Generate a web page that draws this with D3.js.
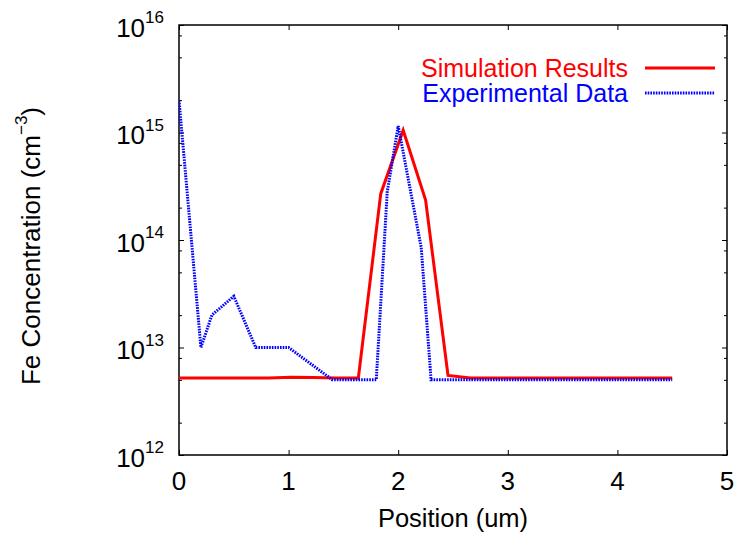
<!DOCTYPE html>
<html>
<head>
<meta charset="utf-8">
<script src="https://cdn.jsdelivr.net/npm/d3@7/dist/d3.min.js"></script>
<style>
  html, body { margin: 0; padding: 0; background: #fff; }
  svg { display: block; font-family: "Liberation Sans", Arial, Helvetica, sans-serif; }
</style>
</head>
<body>
<svg id="chart" width="737" height="538"></svg>
<script>
// ---- data ----
const simX = d3.range(23).map(k => k * 4.5 / 22);
const simY = [5.2e12, 5.2e12, 5.2e12, 5.2e12, 5.2e12, 5.3e12, 5.25e12, 5.2e12,
              5.2e12, 2.7e14, 1.05e15, 2.35e14, 5.5e12, 5.2e12, 5.2e12, 5.2e12,
              5.2e12, 5.2e12, 5.2e12, 5.2e12, 5.2e12, 5.2e12, 5.2e12];
const expX = [0, 0.2, 0.3, 0.5, 0.7, 1.0, 1.4, 1.8, 1.9, 2.0, 2.21, 2.3, 4.5];
const expY = [2e15, 1e13, 2e13, 3e13, 1e13, 1e13, 5e12, 5e12, 2.8e14, 1.15e15, 8.5e13, 5e12, 5e12];
const xTicks = [0, 1, 2, 3, 4, 5];
const yTickExps = [12, 13, 14, 15, 16];
const legendLabels = ["Simulation Results", "Experimental Data"];
const xLabel = "Position (um)";
const yLabelMain = "Fe Concentration (cm";
const yLabelSup = "\u22123";

// ---- layout ----
const L = 179, R = 727, T = 25, B = 455;
const FS = 26, SFS = 17, LFS = 25;
const svg = d3.select("#chart");
const x = d3.scaleLinear().domain([0, 5]).range([L, R]);
const y = d3.scaleLog().domain([1e12, 1e16]).range([B, T]);

const majorY = yTickExps.map(e => Math.pow(10, e));
const minorY = [];
yTickExps.slice(0, -1).forEach(e => [2, 5, 8].forEach(m => minorY.push(m * Math.pow(10, e))));

function styleAxis(g) {
  g.select(".domain").remove();
  g.selectAll("line").attr("stroke", "#000").attr("stroke-width", 1);
  g.selectAll("text").remove();
}
// ticks
svg.append("g").attr("transform", `translate(0,${B})`)
  .call(d3.axisBottom(x).tickValues(xTicks).tickSize(-5).tickFormat("")).call(styleAxis);
svg.append("g").attr("transform", `translate(0,${T})`)
  .call(d3.axisTop(x).tickValues(xTicks).tickSize(-5).tickFormat("")).call(styleAxis);
svg.append("g").attr("transform", `translate(${L},0)`)
  .call(d3.axisLeft(y).tickValues(majorY).tickSize(-5).tickFormat("")).call(styleAxis);
svg.append("g").attr("transform", `translate(${L},0)`)
  .call(d3.axisLeft(y).tickValues(minorY).tickSize(-3).tickFormat("")).call(styleAxis);
svg.append("g").attr("transform", `translate(${R},0)`)
  .call(d3.axisRight(y).tickValues(majorY).tickSize(-5).tickFormat("")).call(styleAxis);
svg.append("g").attr("transform", `translate(${R},0)`)
  .call(d3.axisRight(y).tickValues(minorY).tickSize(-3).tickFormat("")).call(styleAxis);

// frame
svg.append("rect").attr("x", L).attr("y", T).attr("width", R - L).attr("height", B - T)
  .attr("fill", "none").attr("stroke", "#000").attr("stroke-width", 1.5);

// x tick labels
svg.append("g").selectAll("text").data(xTicks).join("text")
  .attr("x", d => x(d)).attr("y", 490).attr("text-anchor", "middle")
  .attr("font-size", FS).attr("fill", "#000").text(d => d);

// y tick labels
const yl = svg.append("g").selectAll("text").data(yTickExps).join("text")
  .attr("x", 164).attr("y", d => y(Math.pow(10, d)) + 11.5)
  .attr("text-anchor", "end").attr("font-size", FS).attr("fill", "#000");
yl.append("tspan").text("10");
yl.append("tspan").attr("font-size", SFS).attr("dy", -13.5).text(d => d);

// axis titles
svg.append("text").attr("x", (L + R) / 2 + 0).attr("y", 527).attr("text-anchor", "middle")
  .attr("font-size", 25.5).attr("fill", "#000").text(xLabel);
const yt = svg.append("text").attr("transform", "translate(40,246) rotate(-90)")
  .attr("text-anchor", "middle").attr("font-size", FS).attr("fill", "#000");
yt.append("tspan").text(yLabelMain);
yt.append("tspan").attr("font-size", SFS).attr("dy", -13).text(yLabelSup);
yt.append("tspan").attr("dy", 13).text(")");

// lines
svg.append("defs").append("clipPath").attr("id", "clip")
  .append("rect").attr("x", L).attr("y", T).attr("width", R - L).attr("height", B - T);
const line = d3.line().x(d => x(d[0])).y(d => y(d[1]));
svg.append("path").datum(d3.zip(simX, simY)).attr("d", line)
  .attr("fill", "none").attr("stroke", "#ff0000").attr("stroke-width", 3)
  .attr("stroke-linejoin", "miter").attr("clip-path", "url(#clip)");
svg.append("path").datum(d3.zip(expX, expY)).attr("d", line)
  .attr("fill", "none").attr("stroke", "#0000ff").attr("stroke-width", 3)
  .attr("stroke-dasharray", "1.6,1.1").attr("clip-path", "url(#clip)");

// legend
const legColors = ["#ff0000", "#0000ff"];
const legY = [68, 93];
const lg = svg.append("g");
legendLabels.forEach((t, i) => {
  lg.append("text").attr("x", 628).attr("y", legY[i] + (i === 0 ? 9 : 8.5))
    .attr("text-anchor", "end").attr("font-size", LFS).attr("fill", legColors[i]).text(t);
  const ln = lg.append("line").attr("x1", 645).attr("x2", 715)
    .attr("y1", legY[i]).attr("y2", legY[i]).attr("stroke", legColors[i]);
  if (i === 0) ln.attr("stroke-width", 3);
  else ln.attr("stroke-width", 3).attr("stroke-dasharray", "1.6,1.1");
});
</script>
</body>
</html>
